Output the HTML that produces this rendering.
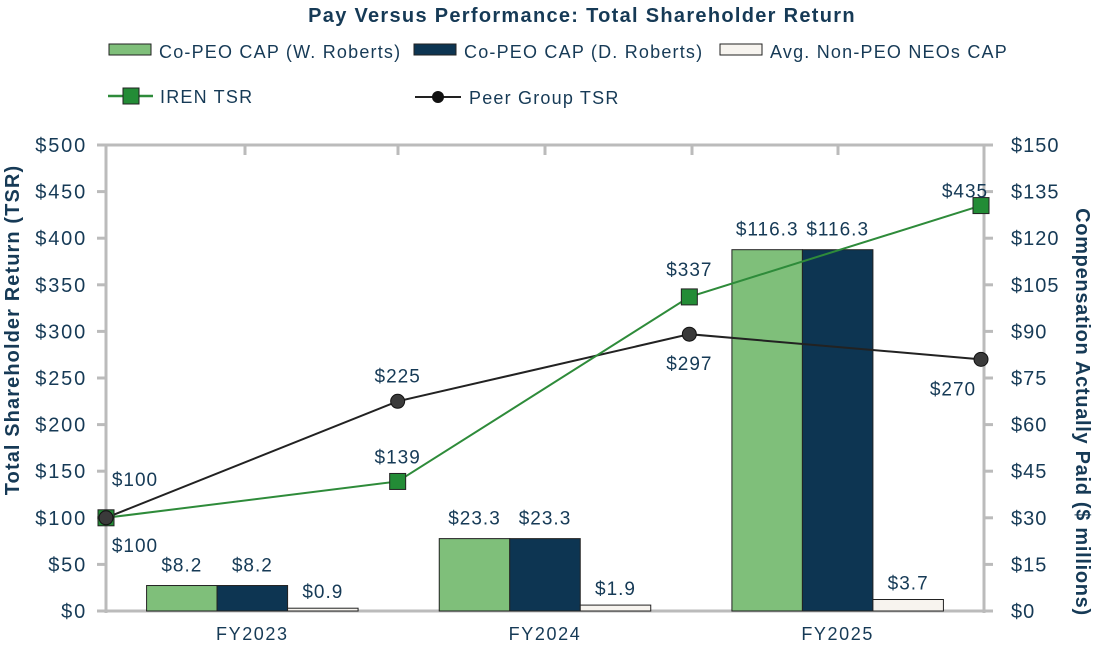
<!DOCTYPE html>
<html><head><meta charset="utf-8"><style>
body{margin:0;background:#fff;width:1096px;height:648px;overflow:hidden}
svg text{font-family:"Liberation Sans",sans-serif}
</style></head><body>
<svg id="chart" width="1096" height="648" xmlns="http://www.w3.org/2000/svg"></svg>
<script>
const categories=["FY2023","FY2024","FY2025"];
const capW=[8.2,23.3,116.3];
const capD=[8.2,23.3,116.3];
const capNeo=[0.9,1.9,3.7];
const irenTsr=[100,139,337,435];
const peerTsr=[100,225,297,270];
const leftTicks=[0,50,100,150,200,250,300,350,400,450,500];
const rightTicks=[0,15,30,45,60,75,90,105,120,135,150];
const NS="http://www.w3.org/2000/svg";
const svg=document.getElementById('chart');
const L=106,R=984,T=145,B=611;
const yL=v=>B-(v/500)*(B-T);
const yR=v=>B-(v/150)*(B-T);
const catW=(R-L)/3;
const xC=i=>L+catW*(i+0.5);
const xP=i=>L+(R-L-3)*i/(irenTsr.length-1);
function mk(tag,attrs,txt){const e=document.createElementNS(NS,tag);for(const k in attrs)e.setAttribute(k,attrs[k]);if(txt!==undefined)e.textContent=txt;svg.appendChild(e);return e;}
const navy="#0d3552",txtc="#163a56";
let t=mk('text',{x:582,y:22,'text-anchor':'middle','font-size':20,'font-weight':'bold',fill:txtc,'letter-spacing':1.3},'Pay Versus Performance: Total Shareholder Return');

// legend
const leg=[[109,'#7fbf7a','Co-PEO CAP (W. Roberts)'],[414,navy,'Co-PEO CAP (D. Roberts)'],[720,'#f7f4ef','Avg. Non-PEO NEOs CAP']];
leg.forEach((l,i)=>{let r=mk('rect',{x:l[0],y:44,width:42,height:11,fill:l[1],stroke:'#222','stroke-width':1});
let tx=mk('text',{x:l[0]+50,y:58,'font-size':18,fill:txtc,'letter-spacing':1.2},l[2]);});
mk('line',{x1:108,y1:96,x2:153,y2:96,stroke:'#2e8b3a','stroke-width':2.5});
mk('rect',{x:123,y:88,width:16,height:16,fill:'#238c36',stroke:'#222'});
t=mk('text',{x:160,y:103,'font-size':18,fill:txtc,'letter-spacing':1.2},'IREN TSR');
mk('line',{x1:415,y1:97,x2:461,y2:97,stroke:'#222','stroke-width':2});
mk('circle',{cx:438,cy:97,r:6,fill:'#111'});
t=mk('text',{x:469,y:104,'font-size':18,fill:txtc,'letter-spacing':1.2},'Peer Group TSR');
// axes
mk('line',{x1:L,y1:T,x2:L,y2:B+2,stroke:'#bbb','stroke-width':3});
mk('line',{x1:R,y1:T,x2:R,y2:B+2,stroke:'#bbb','stroke-width':3});
mk('line',{x1:L-6,y1:T,x2:R+6,y2:T,stroke:'#bbb','stroke-width':3});
mk('line',{x1:L-6,y1:B,x2:R+6,y2:B,stroke:'#bbb','stroke-width':3});
[245,398,545,692,838].forEach(x=>mk('line',{x1:x,y1:T,x2:x,y2:T+10,stroke:'#bbb','stroke-width':3}));
leftTicks.forEach(v=>{mk('line',{x1:L-9,y1:yL(v),x2:L,y2:yL(v),stroke:'#bbb','stroke-width':3});
let e=mk('text',{x:L-19,y:yL(v)+7,'text-anchor':'end','font-size':20,fill:txtc,'letter-spacing':1.8},'$'+v);});
rightTicks.forEach(v=>{mk('line',{x1:R,y1:yR(v),x2:R+9,y2:yR(v),stroke:'#bbb','stroke-width':3});
let e=mk('text',{x:R+27,y:yR(v)+7,'font-size':20,fill:txtc,'letter-spacing':1},'$'+v);});
t=mk('text',{x:0,y:0,'text-anchor':'middle','font-size':20,'font-weight':'bold',fill:txtc,'letter-spacing':1.1,transform:`translate(19,330) rotate(-90)`},'Total Shareholder Return (TSR)');
t=mk('text',{x:0,y:0,'text-anchor':'middle','font-size':20,'font-weight':'bold',fill:txtc,'letter-spacing':0.7,transform:`translate(1076,412) rotate(90)`},'Compensation Actually Paid ($ millions)');
// bars
const bw=70.5;
const series=[[capW,'#7fbf7a'],[capD,navy],[capNeo,'#f7f4ef']];
categories.forEach((c,i)=>{
 series.forEach((s,j)=>{const x=xC(i)-bw*1.5+bw*j;const v=s[0][i];
  let r=mk('rect',{x:x,y:yR(v),width:bw,height:B-yR(v),fill:s[1],stroke:'#222','stroke-width':1});
  
  let l=mk('text',{x:x+bw/2,y:yR(v)-(j==2?10:14),'text-anchor':'middle','font-size':19,fill:txtc,'letter-spacing':1},'$'+v.toFixed(1));
  });
 let e=mk('text',{x:xC(i),y:640,'text-anchor':'middle','font-size':18,fill:txtc,'letter-spacing':1.6},c);
});
// lines
function line(data,color,w){let p=mk('polyline',{points:data.map((v,i)=>xP(i)+','+yL(v)).join(' '),fill:'none',stroke:color,'stroke-width':w});return p;}
let pl=line(peerTsr,'#222',2);
let il=line(irenTsr,'#2e8b3a',2);
irenTsr.forEach((v,i)=>{let r=mk('rect',{x:xP(i)-8,y:yL(v)-8,width:16,height:16,fill:'#238c36',stroke:'#222'});});
peerTsr.forEach((v,i)=>{let c=mk('circle',{cx:xP(i),cy:yL(v),r:7,fill:'#3a3a3a',stroke:'#111'});});
const irenOff=[[29,-32],[0,-18],[0,-21],[-16,-8]];
const peerOff=[[29,34],[0,-19],[0,36],[-28,36]];
irenTsr.forEach((v,i)=>{let e=mk('text',{x:xP(i)+irenOff[i][0],y:yL(v)+irenOff[i][1],'text-anchor':'middle','font-size':19,fill:txtc,'letter-spacing':1},'$'+v);});
peerTsr.forEach((v,i)=>{let e=mk('text',{x:xP(i)+peerOff[i][0],y:yL(v)+peerOff[i][1],'text-anchor':'middle','font-size':19,fill:txtc,'letter-spacing':1},'$'+v);});
</script>
</body></html>
